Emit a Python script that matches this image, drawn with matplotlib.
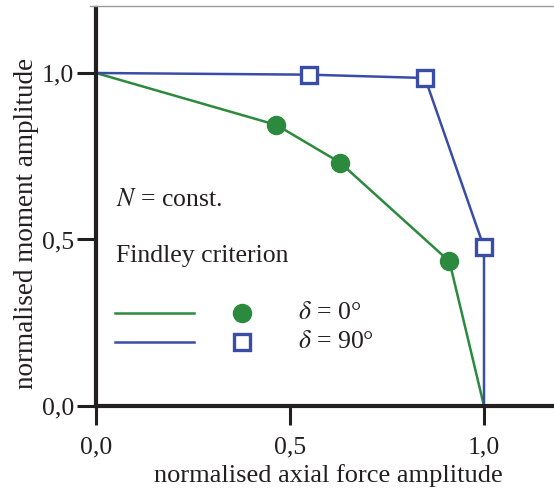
import matplotlib.pyplot as plt

# Daten
x_d0 = [0.0, 0.465, 0.629, 0.911, 1.0]
y_d0 = [1.0, 0.844, 0.731, 0.434, 0.0]
x_d90 = [0.0, 0.549, 0.848, 1.0, 1.0]
y_d90 = [1.0, 0.995, 0.985, 0.476, 0.0]
ticks = [0.0, 0.5, 1.0]
tick_labels = ["0,0", "0,5", "1,0"]

green = "#2b8a3e"
blue = "#3a4da6"
dark = "#231f20"

plt.rcParams['font.family'] = ['Liberation Serif', 'DejaVu Serif']
plt.rcParams['mathtext.fontset'] = 'stix'

fig = plt.figure(figsize=(5.54, 4.90), dpi=100)
ax = fig.add_axes([96 / 554, 84 / 490, 458 / 554, 398 / 490])

# Kurven
ax.plot(x_d0, y_d0, color=green, lw=1.8, zorder=2)
ax.plot(x_d0[1:4], y_d0[1:4], 'o', color=green, ms=13, zorder=3)
ax.plot(x_d90, y_d90, color=blue, lw=1.8, zorder=2)
ax.plot(x_d90[1:4], y_d90[1:4], 's', mfc='white', mec=blue, mew=2.4, ms=11.5, zorder=3)

ax.set_xlim(0, 458 / 388)
ax.set_ylim(0, 398 / 333)
ax.set_xticks(ticks)
ax.set_xticklabels(tick_labels)
ax.set_yticks(ticks)
ax.set_yticklabels(tick_labels)
ax.tick_params(direction='out', length=14, width=2.2, labelsize=18.5, color=dark, labelcolor=dark)
ax.tick_params(axis='x', pad=8)
ax.tick_params(axis='y', pad=2)

for s in ['top', 'right']:
    ax.spines[s].set_visible(False)
for s in ['left', 'bottom']:
    ax.spines[s].set_linewidth(3)
    ax.spines[s].set_color(dark)

ax.set_xlabel("normalised axial force amplitude", fontsize=19, color=dark)
ax.set_ylabel("normalised moment amplitude", fontsize=19.5, color=dark)
ax.xaxis.set_label_coords((328 - 96) / 458, (406 - 464) / 398)
ax.yaxis.set_label_coords((39 - 96) / 458, (406 - 223) / 398)

# Beschriftung
tr = ax.transAxes
def ax_xy(px, py):
    return (px - 96) / 458, (406 - py) / 398

ax.text(*ax_xy(116, 206), r"$N$ = const.", transform=tr, fontsize=18.5, va='baseline', color=dark)
ax.text(*ax_xy(116, 262), "Findley criterion", transform=tr, fontsize=18.5, va='baseline', color=dark)

# Legende von Hand
for py, col, mk, lab in [(313, green, 'o', r"$\delta$ = 0°"), (342, blue, 's', r"$\delta$ = 90°")]:
    x0, y0 = ax_xy(115, py)
    x1, _ = ax_xy(194, py)
    ax.plot([x0, x1], [y0, y0], color=col, lw=1.8, transform=tr, clip_on=False)
    xm, _ = ax_xy(242, py)
    if mk == 'o':
        ax.plot([xm], [y0], 'o', color=col, ms=13, transform=tr, clip_on=False)
    else:
        ax.plot([xm], [y0], 's', mfc='white', mec=col, mew=2.4, ms=11.5, transform=tr, clip_on=False)
    xt, _ = ax_xy(298, py)
    ax.text(xt, y0, lab, transform=tr, fontsize=18.5, va='center', color=dark)

# graue Linie oben
fig.add_artist(plt.Line2D([90 / 554, 1], [1 - 6 / 490, 1 - 6 / 490], color='#999999', lw=1))

fig.savefig("out.png", dpi=100)
